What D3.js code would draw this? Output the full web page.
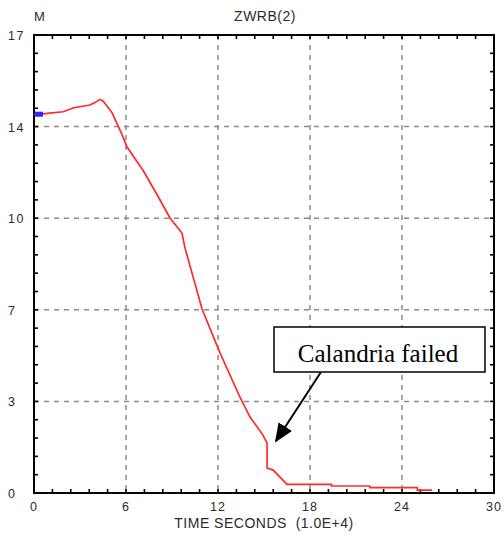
<!DOCTYPE html>
<html>
<head>
<meta charset="utf-8">
<script src="https://cdn.jsdelivr.net/npm/d3@7"></script>
<style>
  body { margin: 0; background: #fff; }
  text { font-family: "Liberation Sans", Arial, sans-serif; }
</style>
</head>
<body>
<svg id="chart"></svg>
<script>
const WIDTH = 504;
const HEIGHT = 535;

// time in 1.0E+4 seconds, level in M
const timeVals = [0, 0.5, 1.0, 1.9, 2.6, 3.65, 4.0, 4.3, 4.5, 4.8, 5.1, 5.4, 5.75, 6.06, 6.78, 7.1, 8.0, 8.87, 9.65, 9.85, 10.96, 12.13, 12.78, 13.4, 14.09, 14.93, 15.2, 15.2, 15.6, 16.04, 16.5, 19.4, 19.4, 21.9, 21.9, 25.0, 25.0, 25.96];
const levelVals = [14.06, 14.06, 14.1, 14.15, 14.3, 14.4, 14.5, 14.61, 14.55, 14.34, 14.1, 13.73, 13.29, 12.85, 12.25, 11.99, 11.1, 10.21, 9.65, 9.09, 6.83, 5.2, 4.38, 3.6, 2.82, 2.15, 1.86, 0.93, 0.85, 0.59, 0.32, 0.32, 0.26, 0.26, 0.2, 0.2, 0.11, 0.11];

const xTicks = [0, 6, 12, 18, 24, 30];
const yTicks = [0, 3.4, 6.8, 10.2, 13.6, 17];
const xMinor = d3.range(0, 30.01, 1.2);
const yMinor = d3.range(0, 17.01, 0.68);

const margin = { left: 34, top: 35, right: 10, bottom: 42 };
const w = 460, h = 458;
const labelColor = "#2b2b2b";

const svg = d3.select("#chart").attr("width", WIDTH).attr("height", HEIGHT);
const g = svg.append("g").attr("transform", `translate(${margin.left},${margin.top})`);

const x = d3.scaleLinear().domain([0, 30]).range([0, w]);
const y = d3.scaleLinear().domain([0, 17]).range([h, 0]);

/* dashed grid */
g.selectAll(".vgrid").data(xTicks.slice(1, -1)).enter().append("line")
  .attr("x1", d => x(d)).attr("x2", d => x(d)).attr("y1", 0).attr("y2", h)
  .attr("stroke", "#8a8a8a").attr("stroke-width", 1.5).attr("stroke-dasharray", "5,5");
g.selectAll(".hgrid").data(yTicks.slice(1, -1)).enter().append("line")
  .attr("x1", 0).attr("x2", w).attr("y1", d => y(d)).attr("y2", d => y(d))
  .attr("stroke", "#8a8a8a").attr("stroke-width", 1.5).attr("stroke-dasharray", "5,5");

/* inward minor ticks on all sides */
const tk = 4;
xMinor.forEach(v => {
  g.append("line").attr("x1", x(v)).attr("x2", x(v)).attr("y1", h).attr("y2", h - tk).attr("stroke", "#000").attr("stroke-width", 1.6);
  g.append("line").attr("x1", x(v)).attr("x2", x(v)).attr("y1", 0).attr("y2", tk).attr("stroke", "#000").attr("stroke-width", 1.6);
});
yMinor.forEach(v => {
  g.append("line").attr("x1", 0).attr("x2", tk).attr("y1", y(v)).attr("y2", y(v)).attr("stroke", "#000").attr("stroke-width", 1.6);
  g.append("line").attr("x1", w).attr("x2", w - tk).attr("y1", y(v)).attr("y2", y(v)).attr("stroke", "#000").attr("stroke-width", 1.6);
});

/* frame */
g.append("rect").attr("x", 0).attr("y", 0).attr("width", w).attr("height", h)
  .attr("fill", "none").attr("stroke", "#000").attr("stroke-width", 2);

/* curve */
const pts = timeVals.map((t, i) => [t, levelVals[i]]);
const line = d3.line().x(d => x(d[0])).y(d => y(d[1]));
g.append("path").datum(pts).attr("d", line)
  .attr("fill", "none").attr("stroke", "#ff2a2a").attr("stroke-width", 1.7);

/* start marker */
g.append("rect").attr("x", x(0) + 1).attr("y", y(levelVals[0]) - 2.5)
  .attr("width", 8).attr("height", 5).attr("fill", "#2a2aff");

/* tick labels */
const fmt = d3.format(".0f");
svg.selectAll(".xl").data(xTicks).enter().append("text")
  .attr("x", d => margin.left + x(d)).attr("y", margin.top + h + 18)
  .attr("text-anchor", "middle").attr("font-size", 12.5).attr("letter-spacing", 1)
  .attr("fill", labelColor).text(d => d);
svg.selectAll(".yl").data(yTicks).enter().append("text")
  .attr("x", 8).attr("y", d => margin.top + y(d) + 5)
  .attr("text-anchor", "start").attr("font-size", 12.5).attr("letter-spacing", 1.5)
  .attr("fill", labelColor).text(d => fmt(d));

svg.append("text").attr("x", 34).attr("y", 21).attr("font-size", 13).attr("fill", labelColor).text("M");
svg.append("text").attr("x", 265).attr("y", 21).attr("text-anchor", "middle")
  .attr("font-size", 14).attr("letter-spacing", 0.5).attr("fill", labelColor).text("ZWRB(2)");
svg.append("text").attr("x", 264).attr("y", 528).attr("text-anchor", "middle")
  .attr("font-size", 14).attr("letter-spacing", 0.5).attr("fill", labelColor)
  .attr("xml:space", "preserve").text("TIME SECONDS  (1.0E+4)");

/* annotation */
const box = { x0: 274, y0: 327, x1: 485, y1: 372 };
svg.append("rect").attr("x", box.x0).attr("y", box.y0)
  .attr("width", box.x1 - box.x0).attr("height", box.y1 - box.y0)
  .attr("fill", "#fff").attr("stroke", "#000").attr("stroke-width", 1.5);
svg.append("text").attr("x", 378).attr("y", 362)
  .attr("text-anchor", "middle").attr("font-size", 25)
  .style("font-family", "'Liberation Serif', 'Times New Roman', serif")
  .text("Calandria failed");

svg.append("defs").append("marker").attr("id", "arr")
  .attr("viewBox", "0 0 10 10").attr("refX", 9).attr("refY", 5)
  .attr("markerWidth", 19).attr("markerHeight", 16).attr("markerUnits", "userSpaceOnUse")
  .attr("orient", "auto").attr("preserveAspectRatio", "none")
  .append("path").attr("d", "M0,0 L10,5 L0,10 Z").attr("fill", "#000");
svg.append("line").attr("x1", 321).attr("y1", 372).attr("x2", 276).attr("y2", 441)
  .attr("stroke", "#000").attr("stroke-width", 2).attr("marker-end", "url(#arr)");
</script>
</body>
</html>
